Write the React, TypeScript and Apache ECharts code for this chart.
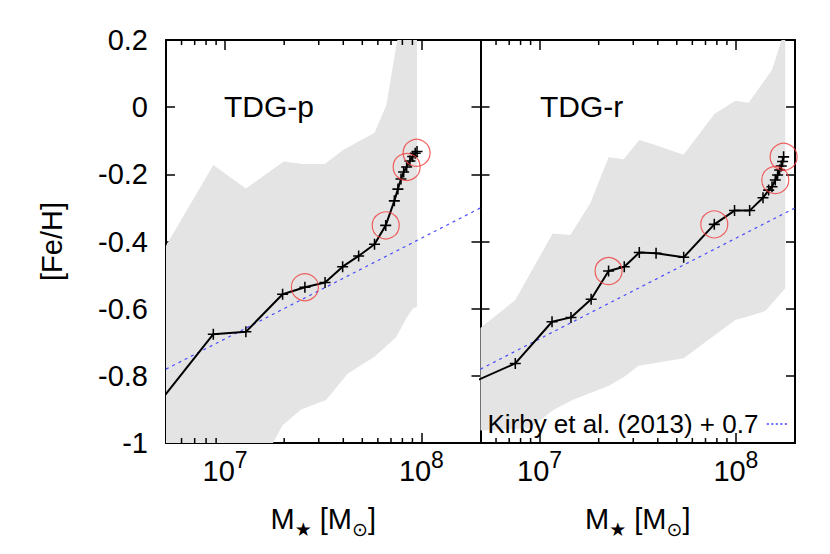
import React, { useEffect, useRef } from "react";
import * as echarts from "echarts";

const FONT = '"Liberation Sans", Arial, Helvetica, sans-serif';
const SYM_FONT = '"DejaVu Sans", "Liberation Sans", sans-serif';

const X_MIN = 5e6;
const X_MAX = 2e8;
const Y_MIN = -1;
const Y_MAX = 0.2;
const Y_STEP = 0.2;

// TDG-p model track
const massP = [4.1e6, 8.71e6, 1.276e7, 1.963e7, 2.55e7, 3.23e7, 3.97e7, 4.79e7, 5.77e7, 6.58e7, 7.28e7, 7.59e7, 7.87e7, 8.12e7, 8.41e7, 8.74e7, 9.03e7, 9.3e7, 9.5e7];
const fehP = [-0.917, -0.676, -0.669, -0.557, -0.536, -0.522, -0.475, -0.443, -0.408, -0.352, -0.279, -0.244, -0.214, -0.193, -0.178, -0.16, -0.147, -0.137, -0.132];

// TDG-r model track
const massR = [4.18e6, 7.52e6, 1.157e7, 1.445e7, 1.83e7, 2.246e7, 2.7e7, 3.22e7, 3.92e7, 5.42e7, 7.76e7, 9.84e7, 1.175e8, 1.374e8, 1.468e8, 1.527e8, 1.587e8, 1.631e8, 1.67e8, 1.703e8, 1.729e8, 1.75e8];
const fehR = [-0.829, -0.763, -0.639, -0.626, -0.572, -0.488, -0.475, -0.433, -0.435, -0.447, -0.349, -0.308, -0.308, -0.27, -0.247, -0.237, -0.217, -0.202, -0.187, -0.175, -0.162, -0.148];

// circled snapshots
const circMassP = [2.55e7, 6.58e7, 8.41e7, 9.45e7];
const circFehP = [-0.536, -0.352, -0.178, -0.136];
const circMassR = [2.246e7, 7.76e7, 1.587e8, 1.75e8];
const circFehR = [-0.488, -0.349, -0.217, -0.148];

// Kirby et al. (2013) + 0.7 relation (end points)
const kirbyMass = [5e6, 2e8];
const kirbyFeh = [-0.78, -0.3];

// shaded spread, TDG-p
const bandUpMassP = [4.09e6, 8.71e6, 1.276e7, 1.986e7, 2.483e7, 3.217e7, 3.975e7, 4.79e7, 5.77e7, 6.625e7, 7.59e7, 9.5e7];
const bandUpFehP = [-0.5, -0.172, -0.242, -0.162, -0.169, -0.169, -0.128, -0.102, -0.076, 0.006, 0.21, 0.4];
const bandLoMassP = [4.09e6, 1.276e7, 1.963e7, 2.437e7, 3.27e7, 4.22e7, 5.77e7, 7.45e7, 8.41e7, 9.03e7, 9.5e7];
const bandLoFehP = [-1.3, -1.15, -0.947, -0.9, -0.872, -0.793, -0.743, -0.684, -0.627, -0.6, -0.594];

// shaded spread, TDG-r
const bandUpMassR = [4.18e6, 7.52e6, 1.165e7, 1.434e7, 1.813e7, 2.246e7, 2.68e7, 3.22e7, 3.886e7, 5.415e7, 7.76e7, 9.93e7, 1.161e8, 1.527e8, 1.75e8, 1.785e8];
const bandUpFehR = [-0.694, -0.574, -0.376, -0.381, -0.286, -0.149, -0.155, -0.098, -0.113, -0.142, -0.02, 0.019, 0.013, 0.111, 0.22, 0.4];
const bandLoMassR = [4.18e6, 7.52e6, 8.97e6, 1.174e7, 1.468e7, 1.813e7, 2.24e7, 2.7e7, 3.195e7, 5.415e7, 9.93e7, 1.139e8, 1.412e8, 1.785e8];
const bandLoFehR = [-0.965, -0.958, -0.955, -0.902, -0.872, -0.851, -0.83, -0.803, -0.77, -0.748, -0.634, -0.624, -0.607, -0.539];

// minor tick positions on the log axis
const minorTicks = [6e6, 7e6, 8e6, 9e6, 2e7, 3e7, 4e7, 5e7, 6e7, 7e7, 8e7, 9e7];

const LEGEND_NAME = "Kirby et al. (2013) + 0.7";
const CROSS = "path://M0,8.6H20V11.4H0Z M8.6,0H11.4V20H8.6Z";
const DOTTED_ICON = "path://M0,0H3V2H0Z M6,0H9V2H6Z M12,0H15V2H12Z M18,0H21V2H18Z M24,0H27V2H24Z";
const KIRBY_COLOR = "#4a4aff";

function pairs(xs: number[], ys: number[]) {
  return xs.map((x, i) => [x, ys[i]]);
}

function bandSeries(axis: number, mu: number[], fu: number[], ml: number[], fl: number[]) {
  return {
    type: "custom",
    xAxisIndex: axis * 2,
    yAxisIndex: axis * 2,
    z: 1,
    silent: true,
    data: [[1e7, -0.5]],
    renderItem: (params: any, api: any) => {
      const pts: number[][] = [];
      for (let i = 0; i < mu.length; i++) pts.push(api.coord([mu[i], fu[i]]));
      for (let i = ml.length - 1; i >= 0; i--) pts.push(api.coord([ml[i], fl[i]]));
      const cs = params.coordSys;
      return {
        type: "polygon",
        shape: { points: pts },
        style: { fill: "#e4e4e4", stroke: "none" },
        clipPath: { type: "rect", shape: { x: cs.x, y: cs.y, width: cs.width, height: cs.height } },
      };
    },
  };
}

function minorTickSeries(axis: number) {
  return {
    type: "custom",
    xAxisIndex: axis * 2,
    yAxisIndex: axis * 2,
    z: 20,
    silent: true,
    data: minorTicks.map((v) => [v, Y_MIN]),
    renderItem: (params: any, api: any) => {
      const v = api.value(0);
      const b = api.coord([v, Y_MIN]);
      const t = api.coord([v, Y_MAX]);
      return {
        type: "group",
        children: [
          { type: "line", shape: { x1: b[0], y1: b[1], x2: b[0], y2: b[1] - 5 }, style: { stroke: "#000", lineWidth: 1.5 } },
          { type: "line", shape: { x1: t[0], y1: t[1], x2: t[0], y2: t[1] + 5 }, style: { stroke: "#000", lineWidth: 1.5 } },
        ],
      };
    },
  };
}

const axisLine = { show: true, onZero: false, lineStyle: { color: "#000", width: 2 } };

function xAxes(grid: number) {
  const common = {
    gridIndex: grid,
    type: "log",
    logBase: 10,
    min: X_MIN,
    max: X_MAX,
    axisLine,
    axisTick: { show: true, inside: true, length: 10, lineStyle: { color: "#000", width: 1.5 } },
    splitLine: { show: false },
    minorTick: { show: false },
  };
  return [
    {
      ...common,
      position: "bottom",
      axisLabel: {
        show: true,
        margin: 5,
        fontSize: 29,
        lineHeight: 46,
        fontFamily: FONT,
        color: "#000",
        formatter: (v: number) => {
          const l = Math.log10(v);
          const e = Math.round(l);
          return Math.abs(l - e) < 1e-6 ? "10{sup|" + e + "}" : "";
        },
        rich: { sup: { fontSize: 23, lineHeight: 23, verticalAlign: "top", fontFamily: FONT, color: "#000" } },
      },
      name: "M{sub|★} [M{sub|⊙}]",
      nameLocation: "middle",
      nameGap: 42,
      nameTextStyle: {
        fontSize: 29,
        lineHeight: 40,
        fontFamily: FONT,
        color: "#000",
        rich: { sub: { fontSize: 19, lineHeight: 14, verticalAlign: "bottom", fontFamily: SYM_FONT, color: "#000" } },
      },
    },
    { ...common, position: "top", axisLabel: { show: false } },
  ];
}

function yAxes(grid: number) {
  const common = {
    gridIndex: grid,
    type: "value",
    min: Y_MIN,
    max: Y_MAX,
    interval: Y_STEP,
    axisLine,
    axisTick: { show: true, inside: true, length: 9, lineStyle: { color: "#000", width: 1.5 } },
    splitLine: { show: false },
  };
  const left: any = { ...common, position: "left", axisLabel: { show: false } };
  if (grid === 0) {
    left.axisLabel = {
      show: true,
      margin: 18,
      fontSize: 29,
      fontFamily: FONT,
      color: "#000",
      formatter: (v: number) => String(Math.round(v * 10) / 10),
    };
    left.name = "[Fe/H]";
    left.nameLocation = "middle";
    left.nameRotate = 90;
    left.nameGap = 100;
    left.nameTextStyle = { fontSize: 29, fontFamily: FONT, color: "#000" };
  }
  return [left, { ...common, position: "right", axisLabel: { show: false } }];
}

function trackSeries(axis: number, xs: number[], ys: number[]) {
  return {
    type: "line",
    xAxisIndex: axis * 2,
    yAxisIndex: axis * 2,
    z: 5,
    data: pairs(xs, ys).map((p, i) => (i === 0 ? { value: p, symbol: "none" } : p)),
    symbol: CROSS,
    symbolSize: 11,
    showSymbol: true,
    lineStyle: { color: "#000", width: 2 },
    itemStyle: { color: "#000" },
    clip: true,
  };
}

function kirbySeries(axis: number) {
  return {
    name: LEGEND_NAME,
    type: "line",
    xAxisIndex: axis * 2,
    yAxisIndex: axis * 2,
    z: 3,
    data: pairs(kirbyMass, kirbyFeh),
    symbol: "none",
    lineStyle: { color: KIRBY_COLOR, width: 1.2, type: [3, 4] },
    itemStyle: { color: KIRBY_COLOR },
  };
}

function circleSeries(axis: number, xs: number[], ys: number[]) {
  return {
    type: "scatter",
    xAxisIndex: axis * 2,
    yAxisIndex: axis * 2,
    z: 6,
    data: pairs(xs, ys),
    symbol: "circle",
    symbolSize: 27,
    itemStyle: { color: "rgba(0,0,0,0)", borderColor: "#f03c3c", borderWidth: 1.2 },
  };
}

export default function App() {
  const ref = useRef<HTMLDivElement>(null);
  useEffect(() => {
    if (!ref.current) return;
    const chart = echarts.init(ref.current, undefined, { renderer: "svg" });
    chart.setOption({
      animation: false,
      backgroundColor: "#fff",
      textStyle: { fontFamily: FONT },
      title: [
        { text: "TDG-p", left: 224, top: 91, padding: 0, textStyle: { fontSize: 30, fontWeight: "normal", fontFamily: FONT, color: "#000" } },
        { text: "TDG-r", left: 540, top: 91, padding: 0, textStyle: { fontSize: 30, fontWeight: "normal", fontFamily: FONT, color: "#000" } },
      ],
      legend: {
        data: [{ name: LEGEND_NAME, icon: DOTTED_ICON, itemStyle: { color: KIRBY_COLOR } }],
        right: 38,
        top: 404,
        align: "right",
        itemWidth: 27,
        itemHeight: 1.5,
        itemGap: 6,
        selectedMode: false,
        textStyle: { fontSize: 26, fontFamily: FONT, color: "#000", lineHeight: 30 },
      },
      grid: [
        { left: 166, top: 40, width: 314.5, height: 403, outerBoundsMode: "none", containLabel: false },
        { left: 480.5, top: 40, width: 314.5, height: 403, outerBoundsMode: "none", containLabel: false },
      ],
      xAxis: [...xAxes(0), ...xAxes(1)],
      yAxis: [...yAxes(0), ...yAxes(1)],
      series: [
        bandSeries(0, bandUpMassP, bandUpFehP, bandLoMassP, bandLoFehP),
        bandSeries(1, bandUpMassR, bandUpFehR, bandLoMassR, bandLoFehR),
        minorTickSeries(0),
        minorTickSeries(1),
        kirbySeries(0),
        kirbySeries(1),
        trackSeries(0, massP, fehP),
        trackSeries(1, massR, fehR),
        circleSeries(0, circMassP, circFehP),
        circleSeries(1, circMassR, circFehR),
      ],
    });
    return () => chart.dispose();
  }, []);
  return <div ref={ref} style={{ position: "fixed", left: 0, top: 0, width: 830, height: 554 }} />;
}
